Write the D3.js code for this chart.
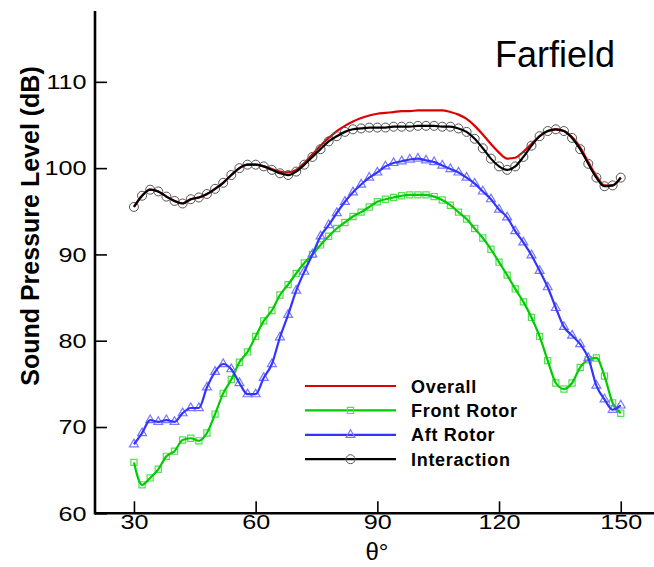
<!DOCTYPE html>
<html>
<head>
<meta charset="utf-8">
<script src="https://cdn.jsdelivr.net/npm/d3@7"></script>
<style>
  body { margin: 0; background: #fff; }
  text { font-family: "Liberation Sans", Arial, sans-serif; }
</style>
</head>
<body>
<script>
// chart size
var w = 654;
var h = 567;

// polar angle, degrees
var thetaDeg = [30, 32, 34, 36, 38, 40, 42, 44, 46, 48, 50, 52, 54, 56, 58, 60, 62, 64, 66, 68,
                70, 72, 74, 76, 78, 80, 82, 84, 86, 88, 90, 92, 94, 96, 98, 100, 102, 104, 106, 108,
                110, 112, 114, 116, 118, 120, 122, 124, 126, 128, 130, 132, 134, 136, 138, 140, 142, 144, 146, 148, 150];

// SPL values, dB
var overall = [95.5, 96.8, 97.5, 97.3, 96.7, 96.2, 95.9, 96.4, 96.6, 97.0, 97.6, 98.3, 99.2, 100.0, 100.4, 100.4, 100.2, 99.9, 99.6, 99.5,
               99.8, 100.6, 101.6, 102.6, 103.5, 104.3, 104.9, 105.4, 105.8, 106.1, 106.3, 106.4, 106.5, 106.6, 106.6, 106.7, 106.7, 106.7, 106.7, 106.5,
               106.2, 105.7, 104.9, 103.9, 102.8, 101.8, 101.1, 101.2, 101.9, 102.8, 103.7, 104.3, 104.5, 104.3, 103.6, 102.4, 100.7, 99.1, 98.0, 98.0, 98.9];

var frontRotor = [65.9, 63.3, 64.1, 65.1, 66.6, 67.2, 68.5, 68.7, 68.4, 69.3, 71.5, 73.9, 75.5, 77.5, 78.7, 80.5, 82.3, 83.5, 85.3, 86.5,
                  87.8, 89.0, 90.0, 91.1, 92.1, 93.0, 93.7, 94.4, 94.9, 95.5, 96.1, 96.4, 96.6, 96.8, 96.9, 96.9, 96.9, 96.7, 96.3, 95.7,
                  94.9, 94.1, 93.0, 91.9, 90.6, 89.1, 87.6, 86.0, 84.5, 82.7, 80.5, 77.7, 75.1, 74.4, 75.1, 76.9, 77.8, 78.0, 75.9, 72.8, 71.6];

var aftRotor = [68.0, 69.3, 70.8, 70.6, 70.8, 70.6, 71.6, 72.2, 72.2, 74.6, 76.4, 77.3, 76.7, 75.1, 73.8, 73.8, 75.7, 77.3, 80.4, 83.0,
                85.8, 88.0, 90.0, 92.1, 93.4, 94.8, 96.1, 97.2, 98.1, 98.9, 99.5, 100.2, 100.6, 100.8, 101.0, 101.1, 100.9, 100.7, 100.3, 99.9,
                99.5, 98.9, 98.2, 97.3, 96.4, 95.2, 94.3, 92.7, 91.4, 89.9, 88.1, 86.2, 83.8, 81.6, 80.6, 79.6, 78.0, 74.8, 73.2, 72.0, 72.5];

var interaction = [95.5, 96.8, 97.5, 97.3, 96.7, 96.2, 95.9, 96.4, 96.6, 97.0, 97.6, 98.3, 99.2, 100.0, 100.4, 100.4, 100.2, 99.8, 99.4, 99.2,
                   99.6, 100.4, 101.3, 102.2, 103.1, 103.7, 104.2, 104.5, 104.6, 104.7, 104.7, 104.7, 104.8, 104.8, 104.8, 104.9, 104.9, 104.9, 104.8, 104.8,
                   104.6, 104.2, 103.4, 102.3, 101.1, 100.2, 99.8, 100.2, 101.3, 102.6, 103.7, 104.3, 104.5, 104.3, 103.5, 102.2, 100.5, 98.9, 97.9, 98.0, 98.9];

var xMajor = [30, 60, 90, 120, 150];
var xMinor = [25, 35, 40, 45, 50, 55, 65, 70, 75, 80, 85, 95, 100, 105, 110, 115, 125, 130, 135, 140, 145, 155];
var yMajor = [60, 70, 80, 90, 100, 110];
var yMinor = [62, 64, 66, 68, 72, 74, 76, 78, 82, 84, 86, 88, 92, 94, 96, 98, 102, 104, 106, 108, 112, 114, 116, 118];

var seriesNames = ["Overall", "Front Rotor", "Aft Rotor", "Interaction"];

// scales
var x = d3.scaleLinear().domain([20.4, 158.2]).range([95, 654]);
var y = d3.scaleLinear().domain([60, 118]).range([513.3, 12.8]);

var svg = d3.select("body").append("svg")
    .attr("width", w)
    .attr("height", h);

// series styles
var series = [
  { name: seriesNames[0], values: overall, color: "#dd0000", marker: null, mColor: null },
  { name: seriesNames[1], values: frontRotor, color: "#00cc00", marker: d3.symbolSquare, mColor: "#55dd55" },
  { name: seriesNames[2], values: aftRotor, color: "#3333ff", marker: d3.symbolTriangle, mColor: "#7777ff" },
  { name: seriesNames[3], values: interaction, color: "#000000", marker: "circle", mColor: "#555555" }
];

var line = d3.line()
    .x(function(d) { return x(d[0]); })
    .y(function(d) { return y(d[1]); })
    .curve(d3.curveMonotoneX);

function drawMarker(g, s, px, py) {
  if (s.marker === "circle") {
    g.append("circle")
      .attr("cx", px).attr("cy", py).attr("r", 4.5)
      .attr("fill", "none").attr("stroke", s.mColor).attr("stroke-width", 1);
  } else if (s.marker) {
    var size = s.marker === d3.symbolSquare ? 38 : 34;
    g.append("path")
      .attr("d", d3.symbol().type(s.marker).size(size)())
      .attr("transform", "translate(" + px + "," + py + ")")
      .attr("fill", "none").attr("stroke", s.mColor).attr("stroke-width", 1.2);
  }
}

// curves
series.forEach(function(s) {
  var pts = thetaDeg.map(function(t, i) { return [t, s.values[i]]; });
  var g = svg.append("g");
  pts.forEach(function(p) { drawMarker(g, s, x(p[0]), y(p[1])); });
  g.append("path")
    .datum(pts)
    .attr("d", line)
    .attr("fill", "none")
    .attr("stroke", s.color)
    .attr("stroke-width", 2.2);
});

// axes, ticks point inward
var xAxis = svg.append("g").attr("transform", "translate(0,513.3)");
xAxis.call(d3.axisBottom(x).tickValues(xMinor).tickSize(-6).tickFormat(""));
xAxis.call(d3.axisBottom(x).tickValues(xMajor).tickSize(-12).tickPadding(10));

var yAxis = svg.append("g").attr("transform", "translate(95,0)");
yAxis.call(d3.axisLeft(y).tickValues(yMinor).tickSize(-6).tickFormat(""));
yAxis.call(d3.axisLeft(y).tickValues(yMajor).tickSize(-12).tickPadding(9));

svg.selectAll(".domain").remove();
svg.selectAll(".tick line").attr("stroke", "#000").attr("stroke-width", 1.6);

xAxis.selectAll(".tick text")
    .attr("font-size", 21)
    .attr("fill", "#000")
    .attr("dy", "0.25em")
    .attr("transform", "scale(1.2,1)");
yAxis.selectAll(".tick text")
    .attr("font-size", 21)
    .attr("fill", "#000")
    .attr("x", -7)
    .attr("transform", "scale(1.2,1)");

// axis lines
svg.append("line").attr("x1", 95).attr("x2", 654).attr("y1", 513.3).attr("y2", 513.3)
    .attr("stroke", "#000").attr("stroke-width", 2.6);
svg.append("line").attr("x1", 95).attr("x2", 95).attr("y1", 11).attr("y2", 514.6)
    .attr("stroke", "#000").attr("stroke-width", 2.6);

// axis titles
svg.append("text")
    .attr("transform", "translate(39,226) rotate(-90)")
    .attr("text-anchor", "middle")
    .attr("font-size", 25)
    .attr("font-weight", "bold")
    .text("Sound Pressure Level (dB)");

svg.append("text")
    .attr("x", 377).attr("y", 560)
    .attr("text-anchor", "middle")
    .attr("font-size", 24)
    .text("θ°");

svg.append("text")
    .attr("x", 495).attr("y", 67)
    .attr("font-size", 36)
    .text("Farfield");

// legend
var legend = svg.append("g");
series.forEach(function(s, i) {
  var ly = 386 + i * 24.4;
  legend.append("line")
    .attr("x1", 305).attr("x2", 396).attr("y1", ly).attr("y2", ly)
    .attr("stroke", s.color).attr("stroke-width", 2.2);
  drawMarker(legend, s, 350.5, ly);
  legend.append("text")
    .attr("x", 411).attr("y", ly + 6.5)
    .attr("font-size", 18)
    .attr("font-weight", "bold")
    .attr("letter-spacing", 0.7)
    .text(s.name);
});
</script>
</body>
</html>
